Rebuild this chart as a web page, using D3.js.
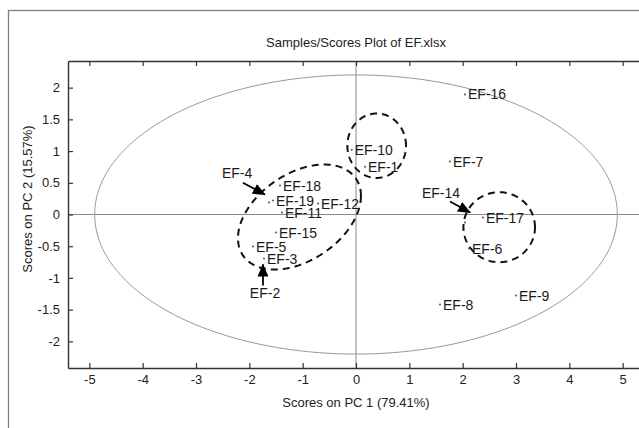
<!DOCTYPE html>
<html><head><meta charset="utf-8">
<script src="https://cdn.jsdelivr.net/npm/d3@7"></script>
<style>
body{margin:0;background:#fff}
svg{display:block}
text{font-family:"Liberation Sans",Arial,Helvetica,sans-serif}
</style>
</head><body>
<svg id="chart" width="639" height="428"></svg>
<script>
// ---------------- data ----------------
const sampleNames = ["EF-1","EF-2","EF-3","EF-4","EF-5","EF-6","EF-7","EF-8","EF-9","EF-10",
                     "EF-11","EF-12","EF-14","EF-15","EF-16","EF-17","EF-18","EF-19"];
const pc1Scores = [0.169,-1.744,-1.725,-1.631,-1.931,2.119,1.763,1.575,3.0,-0.08,
                   -1.388,-0.713,2.044,-1.5,2.044,2.381,-1.425,-1.556];
const pc2Scores = [0.752,-0.804,-0.694,0.189,-0.505,-0.536,0.836,-1.42,-1.278,1.02,
                   0.032,0.173,-0.126,-0.284,1.893,-0.047,0.457,0.221];

// samples whose label is placed away from the point with an arrow
const arrowNames = ["EF-4","EF-14","EF-2"];
const arrowLabelX = [-2.23, 1.594, -1.706];
const arrowLabelY = [0.65, 0.347, -1.23];
const arrowFromX = [-2.12, 1.763, -1.744];
const arrowFromY = [0.50, 0.205, -1.12];
const arrowToX = [-1.71, 2.138, -1.744];
const arrowToY = [0.315, 0.032, -0.79];

// 95% confidence ellipse (data units)
const confCenter = [0, 0];
const confRadii = [4.9, 2.2];

// hand-drawn group ellipses: centre and two conjugate semi-axes (data units)
const groupCenters = [[-1.06, -0.04], [0.388, 1.085], [2.685, -0.2]];
const groupAxisA = [[1.153, 0.333], [0.55, 0], [0.671, 0]];
const groupAxisB = [[0, 0.758], [0, 0.508], [0, 0.552]];

const xDomain = [-5.4, 5.4];
const yDomain = [-2.42, 2.42];
const xTickValues = [-5,-4,-3,-2,-1,0,1,2,3,4,5];
const yTickValues = [-2,-1.5,-1,-0.5,0,0.5,1,1.5,2];

const chartTitle = "Samples/Scores Plot of EF.xlsx";
const xAxisTitle = "Scores on PC 1 (79.41%)";
const yAxisTitle = "Scores on PC 2 (15.57%)";

// ---------------- layout ----------------
const svg = d3.select("#chart");
const plot = {left: 68, right: 644, top: 61, bottom: 368};
const xs = d3.scaleLinear().domain(xDomain).range([plot.left, plot.right]);
const ys = d3.scaleLinear().domain(yDomain).range([plot.bottom, plot.top]);

svg.append("rect").attr("width", 639).attr("height", 428).attr("fill", "#fff");
// figure frame (extends past the right/bottom edge)
svg.append("rect").attr("x", 8.5).attr("y", 10.5).attr("width", 700).attr("height", 500)
  .attr("fill", "none").attr("stroke", "#808080").attr("stroke-width", 1.3);

// zero lines
svg.append("line").attr("x1", plot.left).attr("x2", plot.right)
  .attr("y1", ys(0)).attr("y2", ys(0)).attr("stroke", "#8a8a8a").attr("stroke-width", 1);
svg.append("line").attr("x1", xs(0)).attr("x2", xs(0))
  .attr("y1", plot.top).attr("y2", plot.bottom).attr("stroke", "#8a8a8a").attr("stroke-width", 1);

// ellipse helper
const ellipsePath = (c, a, b) => {
  const ts = d3.range(0, 180).map(i => i / 180 * 2 * Math.PI);
  return d3.line().curve(d3.curveLinearClosed)(ts.map(t => [
    xs(c[0] + a[0] * Math.cos(t) + b[0] * Math.sin(t)),
    ys(c[1] + a[1] * Math.cos(t) + b[1] * Math.sin(t))
  ]));
};

svg.append("path")
  .attr("d", ellipsePath(confCenter, [confRadii[0], 0], [0, confRadii[1]]))
  .attr("fill", "none").attr("stroke", "#9a9a9a").attr("stroke-width", 1);

groupCenters.forEach((c, i) => {
  svg.append("path")
    .attr("d", ellipsePath(c, groupAxisA[i], groupAxisB[i]))
    .attr("fill", "none").attr("stroke", "#111").attr("stroke-width", 2)
    .attr("stroke-dasharray", "7,5");
});

// axes
const axisStyle = g => {
  g.select(".domain").attr("stroke", "#333").attr("stroke-width", 1.4);
  g.selectAll(".tick line").attr("stroke", "#333").attr("stroke-width", 1.2);
  g.selectAll(".tick text").attr("fill", "#222").style("font-size", "13px")
    .style("font-family", '"Liberation Sans",Arial,sans-serif');
};
svg.append("g").attr("transform", `translate(0,${plot.bottom})`)
  .call(d3.axisBottom(xs).tickValues(xTickValues).tickSize(-5).tickSizeOuter(0).tickPadding(7).tickFormat(d => String(d)))
  .call(axisStyle);
svg.append("g").attr("transform", `translate(0,${plot.top})`)
  .call(d3.axisTop(xs).tickValues(xTickValues).tickSize(-5).tickSizeOuter(0).tickFormat(""))
  .call(axisStyle);
svg.append("g").attr("transform", `translate(${plot.left},0)`)
  .call(d3.axisLeft(ys).tickValues(yTickValues).tickSize(-5).tickSizeOuter(0).tickPadding(8).tickFormat(d => String(d)))
  .call(axisStyle);
svg.append("g").attr("transform", `translate(${plot.right},0)`)
  .call(d3.axisRight(ys).tickValues(yTickValues).tickSize(-5).tickSizeOuter(0).tickFormat(""))
  .call(axisStyle);

// points
const pts = sampleNames.map((n, i) => ({name: n, x: pc1Scores[i], y: pc2Scores[i]}));
svg.append("g").selectAll("circle").data(pts).join("circle")
  .attr("cx", d => xs(d.x)).attr("cy", d => ys(d.y)).attr("r", 1)
  .attr("fill", "#555");
svg.append("g").selectAll("text").data(pts.filter(d => !arrowNames.includes(d.name))).join("text")
  .attr("x", d => xs(d.x) + 3).attr("y", d => ys(d.y)).attr("dy", "0.36em")
  .attr("fill", "#1a1a1a").style("font-size", "14px").text(d => d.name);

// arrow annotations
const defs = svg.append("defs");
defs.append("marker").attr("id", "ah").attr("viewBox", "0 0 12 10")
  .attr("refX", 11).attr("refY", 5).attr("markerWidth", 13).attr("markerHeight", 11)
  .attr("markerUnits", "userSpaceOnUse").attr("orient", "auto")
  .append("path").attr("d", "M0,0L12,5L0,10Z").attr("fill", "#000");
arrowNames.forEach((n, i) => {
  svg.append("line")
    .attr("x1", xs(arrowFromX[i])).attr("y1", ys(arrowFromY[i]))
    .attr("x2", xs(arrowToX[i])).attr("y2", ys(arrowToY[i]))
    .attr("stroke", "#000").attr("stroke-width", 1.8).attr("marker-end", "url(#ah)");
  svg.append("text").attr("x", xs(arrowLabelX[i])).attr("y", ys(arrowLabelY[i]))
    .attr("dy", "0.36em").attr("text-anchor", "middle")
    .attr("fill", "#1a1a1a").style("font-size", "14px").text(n);
});

// titles
svg.append("text").attr("x", (plot.left + plot.right) / 2).attr("y", 46.5)
  .attr("text-anchor", "middle").attr("fill", "#222").style("font-size", "13px").text(chartTitle);
svg.append("text").attr("x", (plot.left + plot.right) / 2).attr("y", 406.5)
  .attr("text-anchor", "middle").attr("fill", "#222").style("font-size", "13px").text(xAxisTitle);
svg.append("text").attr("transform", "translate(27,199) rotate(-90)")
  .attr("dy", "0.36em").attr("text-anchor", "middle")
  .attr("fill", "#222").style("font-size", "13px").text(yAxisTitle);
</script>
</body></html>
